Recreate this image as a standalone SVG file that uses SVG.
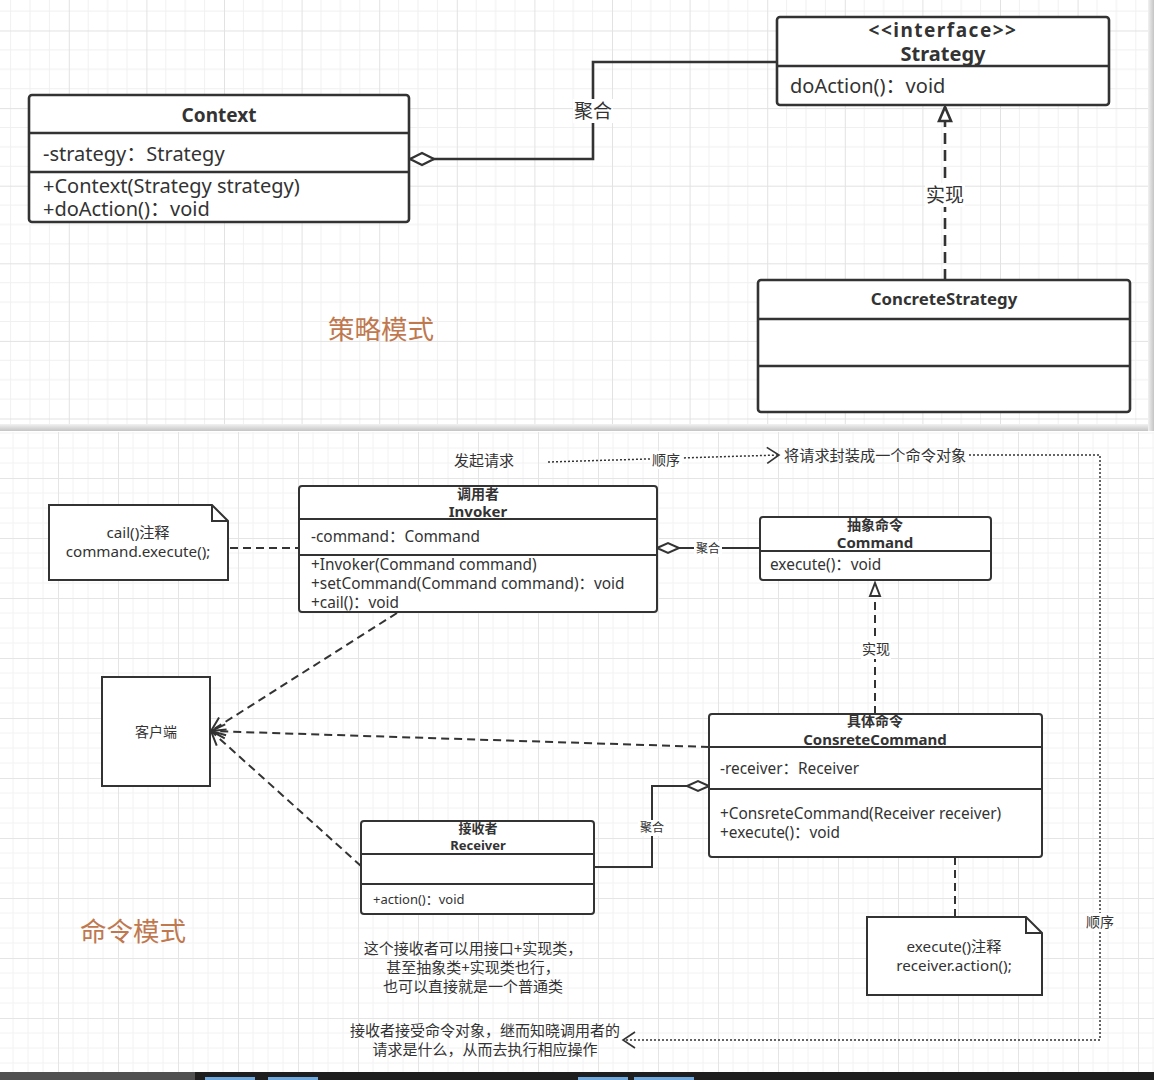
<svg xmlns="http://www.w3.org/2000/svg" width="1154" height="1080" viewBox="0 0 1154 1080">
<style>
text{font-family:"Noto Sans","Noto Sans CJK SC",sans-serif;fill:#333}
.b{font-weight:bold}
.m{text-anchor:middle}
.box{fill:#fff;stroke:#333;stroke-width:2}
.boxT{fill:#fff;stroke:#333;stroke-width:2.6}
.ln{fill:none;stroke:#333;stroke-width:2}
.lnT{fill:none;stroke:#333;stroke-width:2.6}
.dash{fill:none;stroke:#333;stroke-width:2;stroke-dasharray:8 5}
.dot{fill:none;stroke:#333;stroke-width:1.5;stroke-dasharray:2 2}
.lblbg{fill:#fff}
.title{fill:#c0784f}
</style>
<defs>
<pattern id="gT" x="68.8" y="30.5" width="77.6" height="77.6" patternUnits="userSpaceOnUse">
<path d="M19.4,0V77.6M38.8,0V77.6M58.2,0V77.6M0,19.4H77.6M0,38.8H77.6M0,58.2H77.6" stroke="#f0f0f0" stroke-width="1" fill="none"/>
<path d="M0.5,0V77.6M0,0.5H77.6" stroke="#e2e2e2" stroke-width="1" fill="none"/>
</pattern>
<pattern id="gB" x="58" y="58" width="60" height="60" patternUnits="userSpaceOnUse">
<path d="M15,0V60M30,0V60M45,0V60M0,15H60M0,30H60M0,45H60" stroke="#f2f2f2" stroke-width="1" fill="none"/>
<path d="M0.5,0V60M0,0.5H60" stroke="#e5e5e5" stroke-width="1" fill="none"/>
</pattern>
<linearGradient id="shH" x1="0" y1="0" x2="0" y2="1"><stop offset="0" stop-color="#f2f2f2"/><stop offset="1" stop-color="#c4c4c4"/></linearGradient>
<linearGradient id="shV" x1="0" y1="0" x2="1" y2="0"><stop offset="0" stop-color="#f2f2f2"/><stop offset="1" stop-color="#c4c4c4"/></linearGradient>
<marker id="diaT" viewBox="-2 -8 28 16" refX="0" refY="0" markerWidth="28" markerHeight="16" markerUnits="userSpaceOnUse" orient="auto">
<path d="M0,0L12,-6L24,0L12,6Z" fill="#fff" stroke="#333" stroke-width="2.4"/>
</marker>
<marker id="diaB" viewBox="-2 -7 26 14" refX="0" refY="0" markerWidth="26" markerHeight="14" markerUnits="userSpaceOnUse" orient="auto">
<path d="M0,0L11,-5L22,0L11,5Z" fill="#fff" stroke="#333" stroke-width="2"/>
</marker>
<marker id="triT" viewBox="-2 -8 18 16" refX="14" refY="0" markerWidth="18" markerHeight="16" markerUnits="userSpaceOnUse" orient="auto">
<path d="M0,-6L14,0L0,6Z" fill="#fff" stroke="#333" stroke-width="2.6"/>
</marker>
<marker id="triB" viewBox="-2 -7 17 14" refX="13" refY="0" markerWidth="17" markerHeight="14" markerUnits="userSpaceOnUse" orient="auto">
<path d="M0,-5L13,0L0,5Z" fill="#fff" stroke="#333" stroke-width="2"/>
</marker>
<marker id="open" viewBox="-2 -9 18 18" refX="14" refY="0" markerWidth="18" markerHeight="18" markerUnits="userSpaceOnUse" orient="auto">
<path d="M0,-7L14,0L0,7" fill="none" stroke="#333" stroke-width="2"/>
</marker>
<marker id="openD" viewBox="-2 -9 16 18" refX="12" refY="0" markerWidth="16" markerHeight="18" markerUnits="userSpaceOnUse" orient="auto">
<path d="M0,-8L12,0L0,8" fill="none" stroke="#333" stroke-width="1.6"/>
</marker>
</defs>

<!-- backgrounds -->
<rect x="0" y="0" width="1154" height="1080" fill="#fff"/>
<rect x="0" y="0" width="1148" height="425" fill="url(#gT)"/>
<rect x="0" y="424" width="1154" height="7" fill="url(#shH)"/>
<rect x="1148" y="0" width="6" height="431" fill="url(#shV)"/>
<rect x="0" y="432" width="1154" height="640" fill="url(#gB)"/>

<!-- connectors -->
<g id="connectors">
<path class="lnT" d="M410,159H593V62H777" marker-start="url(#diaT)"/>
<rect class="lblbg" x="573" y="99" width="40" height="24"/>
<text x="593" y="118" class="m" font-size="19">聚合</text>
<path class="lnT" d="M945,280V107" stroke-dasharray="11 6" marker-end="url(#triT)"/>
<rect class="lblbg" x="925" y="183" width="40" height="24"/>
<text x="945" y="202" class="m" font-size="19">实现</text>

<path class="dash" d="M230,548H298"/>
<path class="ln" d="M657,548H760" marker-start="url(#diaB)"/>
<rect class="lblbg" x="694" y="541" width="28" height="16"/>
<text x="708" y="553" class="m" font-size="12">聚合</text>
<path class="dash" d="M875,714V583" marker-end="url(#triB)"/>
<rect class="lblbg" x="861" y="640" width="30" height="19"/>
<text x="876" y="654" class="m" font-size="14">实现</text>
<path class="ln" d="M709,786H652V867H594" marker-start="url(#diaB)"/>
<rect class="lblbg" x="638" y="820" width="28" height="16"/>
<text x="652" y="832" class="m" font-size="12">聚合</text>
<path class="dash" d="M709,747L211,731" marker-end="url(#open)"/>
<path class="dash" d="M397,613L211,731" marker-end="url(#open)"/>
<path class="dash" d="M361,866L211,731" marker-end="url(#open)"/>
<path class="dash" d="M955,857V917"/>

<path class="dot" d="M548,462L779,455" marker-end="url(#openD)"/>
<rect class="lblbg" x="651" y="451" width="31" height="18"/>
<text x="666" y="465" class="m" font-size="14">顺序</text>
<path class="dot" d="M969,455H1100V1040H623" marker-end="url(#openD)"/>
<rect class="lblbg" x="1085" y="913" width="31" height="18"/>
<text x="1100" y="927" class="m" font-size="14">顺序</text>
</g>

<!-- top: strategy pattern -->
<g id="context">
<rect class="boxT" x="29" y="95" width="380" height="127" rx="3"/>
<path class="lnT" d="M29,133H409M29,172H409"/>
<text x="219" y="122" class="m b" font-size="19">Context</text>
<text x="43" y="161" font-size="20">-strategy：Strategy</text>
<text x="43" y="193" font-size="20">+Context(Strategy strategy)</text>
<text x="43" y="216" font-size="20">+doAction()：void</text>
</g>
<g id="strategy">
<rect class="boxT" x="777" y="17" width="332" height="88" rx="3"/>
<path class="lnT" d="M777,66H1109"/>
<text x="943" y="37" class="m b" font-size="19" letter-spacing="1.5">&lt;&lt;interface&gt;&gt;</text>
<text x="943" y="61" class="m b" font-size="20">Strategy</text>
<text x="790" y="93" font-size="20">doAction()：void</text>
</g>
<g id="concreteStrategy">
<rect class="boxT" x="758" y="280" width="372" height="132" rx="3"/>
<path class="lnT" d="M758,319H1130M758,366H1130"/>
<text x="944" y="305" class="m b" font-size="16.8">ConcreteStrategy</text>
</g>
<g id="title-strategy">
<text x="381" y="339" class="m title" font-size="26.5">策略模式</text>
</g>

<!-- bottom: command pattern -->
<g id="note-cail">
<path class="box" d="M49,505H212L228,521V580H49Z"/>
<path class="ln" d="M212,505V521H228"/>
<text x="138" y="538" class="m" font-size="15.2">cail()注释</text>
<text x="138" y="557" class="m" font-size="15.2">command.execute();</text>
</g>
<g id="invoker">
<rect class="box" x="299" y="486" width="358" height="126" rx="3"/>
<path class="ln" d="M299,519H657M299,555H657"/>
<text x="478" y="499" class="m b" font-size="14">调用者</text>
<text x="478" y="517" class="m b" font-size="15">Invoker</text>
<text x="311" y="542" font-size="15.4">-command：Command</text>
<text x="311" y="570" font-size="15.4">+Invoker(Command command)</text>
<text x="311" y="589" font-size="15.4">+setCommand(Command command)：void</text>
<text x="311" y="608" font-size="15.4">+cail()：void</text>
</g>
<g id="command">
<rect class="box" x="760" y="517" width="231" height="63" rx="3"/>
<path class="ln" d="M760,551H991"/>
<text x="875" y="530" class="m b" font-size="14">抽象命令</text>
<text x="875" y="548" class="m b" font-size="15">Command</text>
<text x="770" y="570" font-size="15.4">execute()：void</text>
</g>
<g id="concreteCommand">
<rect class="box" x="709" y="714" width="333" height="143" rx="3"/>
<path class="ln" d="M709,747H1042M709,789H1042"/>
<text x="875" y="726" class="m b" font-size="14">具体命令</text>
<text x="875" y="745" class="m b" font-size="15">ConsreteCommand</text>
<text x="720" y="774" font-size="15.4">-receiver：Receiver</text>
<text x="720" y="819" font-size="15.4">+ConsreteCommand(Receiver receiver)</text>
<text x="720" y="838" font-size="15.4">+execute()：void</text>
</g>
<g id="client">
<rect class="box" x="102" y="677" width="108" height="109"/>
<text x="156" y="737" class="m" font-size="14">客户端</text>
</g>
<g id="receiver">
<rect class="box" x="361" y="821" width="233" height="93" rx="3"/>
<path class="ln" d="M361,854H594M361,884H594"/>
<text x="478" y="833" class="m b" font-size="13">接收者</text>
<text x="478" y="850" class="m b" font-size="13">Receiver</text>
<text x="373" y="904" font-size="13">+action()：void</text>
</g>
<g id="note-execute">
<path class="box" d="M867,917H1026L1042,933V995H867Z"/>
<path class="ln" d="M1026,917V933H1042"/>
<text x="954" y="952" class="m" font-size="15.2">execute()注释</text>
<text x="954" y="971" class="m" font-size="15.2">receiver.action();</text>
</g>
<g id="texts">
<text x="484" y="466" class="m" font-size="15">发起请求</text>
<text x="784" y="461" font-size="15.2">将请求封装成一个命令对象</text>
<text x="473" y="954" class="m" font-size="15">这个接收者可以用接口+实现类，</text>
<text x="473" y="973" class="m" font-size="15">甚至抽象类+实现类也行，</text>
<text x="473" y="992" class="m" font-size="15">也可以直接就是一个普通类</text>
<text x="485" y="1036" class="m" font-size="15">接收者接受命令对象，继而知晓调用者的</text>
<text x="485" y="1055" class="m" font-size="15">请求是什么，从而去执行相应操作</text>
<text x="133" y="941" class="m title" font-size="26.5">命令模式</text>
</g>

<!-- bottom taskbar strip -->
<rect x="0" y="1072" width="1154" height="8" fill="#1e1e1e"/>
<rect x="0" y="1072" width="195" height="8" fill="#505050"/>
<rect x="205" y="1077" width="50" height="3" fill="#6fa8dc"/>
<rect x="268" y="1077" width="50" height="3" fill="#6fa8dc"/>
<rect x="578" y="1077" width="50" height="3" fill="#6fa8dc"/>
<rect x="634" y="1077" width="60" height="3" fill="#6fa8dc"/>
</svg>
